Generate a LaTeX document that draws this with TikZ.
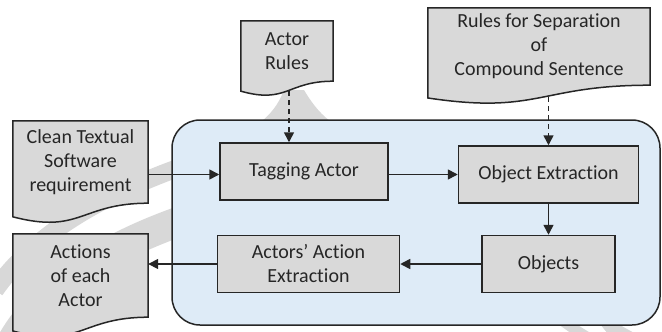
\documentclass[tikz,border=0pt]{standalone}
\usepackage{fontspec}
\setmainfont{Carlito}[Ligatures=NoCommon]
\usetikzlibrary{
    arrows.meta,
    positioning,
    calc,
    backgrounds
}
\tikzset{
  block/.style    = {draw=EdgeDark, fill=BoxGray, line width=1.5pt,
                     minimum height=57pt, align=center},
  doc/.style      = {inner sep=0pt, align=center},
  docshape/.style = {draw=EdgeDark, fill=BoxGray, line width=1.5pt},
  arr/.style      = {-{Triangle[length=10pt,width=10pt]}, line width=1.6pt, EdgeDark},
  darr/.style     = {arr, dash pattern=on 5pt off 4pt},
  wmark/.style    = {draw=MarkGray}
}
\definecolor{BoxGray}{RGB}{217,217,217}
\definecolor{PanelBlue}{RGB}{222,235,247}
\definecolor{EdgeDark}{RGB}{38,38,38}
\definecolor{MarkGray}{RGB}{216,216,216}

\begin{document}
\begin{tikzpicture}[x=1pt, y=1pt, every node/.style={font=\fontsize{20}{24}\selectfont, text=EdgeDark}]
\useasboundingbox (0,0) rectangle (662,-332);

% documents around the panel
\node[doc, minimum width=92pt, minimum height=60pt] (arules) at (287,-51) {Actor\\Rules};
\node[doc, minimum width=222pt, minimum height=77pt] (srules) at (539,-46.5) {Rules for Separation\\of\\Compound Sentence};
\node[doc, minimum width=135pt, minimum height=82pt] (clean) at (80.5,-162) {Clean Textual\\Software\\requirement};
\node[doc, minimum width=135pt, minimum height=83pt] (actions) at (80.5,-275.5) {Actions\\of each\\Actor};

% processing steps
\node[block, minimum width=168pt] (tag) at (304,-171.5) {Tagging Actor};
\node[block, minimum width=180pt] (oe) at (548.5,-174.5) {Object Extraction};
\node[block, minimum width=133pt, below=31pt of oe] (obj) {Objects};
\node[block, minimum width=182pt, left=81pt of obj] (act) {Actors’ Action\\Extraction};

% flow
\draw[arr] (clean.east |- oe.west) -- (tag.west |- oe.west);
\draw[arr] (tag.east |- oe.west) -- (oe.west);
\draw[arr] (oe) -- (obj);
\draw[arr] (obj) -- (act);
\draw[arr] (act.west) -- (act.west -| actions.east);

\coordinate (arules-out) at ($(arules.south)+(2pt,-10pt)$);
\coordinate (srules-out) at ($(srules.south -| oe.north)+(0,-12pt)$);
\draw[darr] (arules-out) -- (arules-out |- tag.north);
\draw[darr] (srules-out) -- (oe.north);

\begin{scope}[on background layer]
  % faint swoosh behind everything
  \draw[wmark, line width=18pt] (178,-168) .. controls (90,-200) and (30,-240) .. (-5,-290);
  \draw[wmark, line width=30pt] (178,-222) .. controls (100,-250) and (40,-290) .. (10,-345);
  \fill[MarkGray] (262,-121) .. controls (275,-110) and (280,-100) .. (284,-90)
      -- (304,-90) .. controls (310,-100) and (318,-112) .. (330,-121) -- cycle;
  \fill[MarkGray] (558,-324) -- (576,-324) -- (592,-334) -- (572,-334) -- cycle;
  \fill[MarkGray] (600,-324) -- (618,-324) -- (636,-334) -- (608,-334) -- cycle;

  % panel
  \draw[EdgeDark, fill=PanelBlue, line width=1.5pt, rounded corners=28pt]
      (172,-120) rectangle (660,-325);

  % wavy document outlines
  \foreach \d in {arules,srules,clean,actions}
    \draw[docshape] let \p1=(\d.north), \p2=(\d.south), \n1={\y1-\y2} in
      (\d.north west) -- (\d.north east) -- (\d.south east)
      .. controls (\d.south) and ($(\d.south)+(0,-0.381*\n1)$)
      .. ($(\d.south west)+(0,-0.165*\n1)$) -- cycle;
\end{scope}
\end{tikzpicture}
\end{document}
